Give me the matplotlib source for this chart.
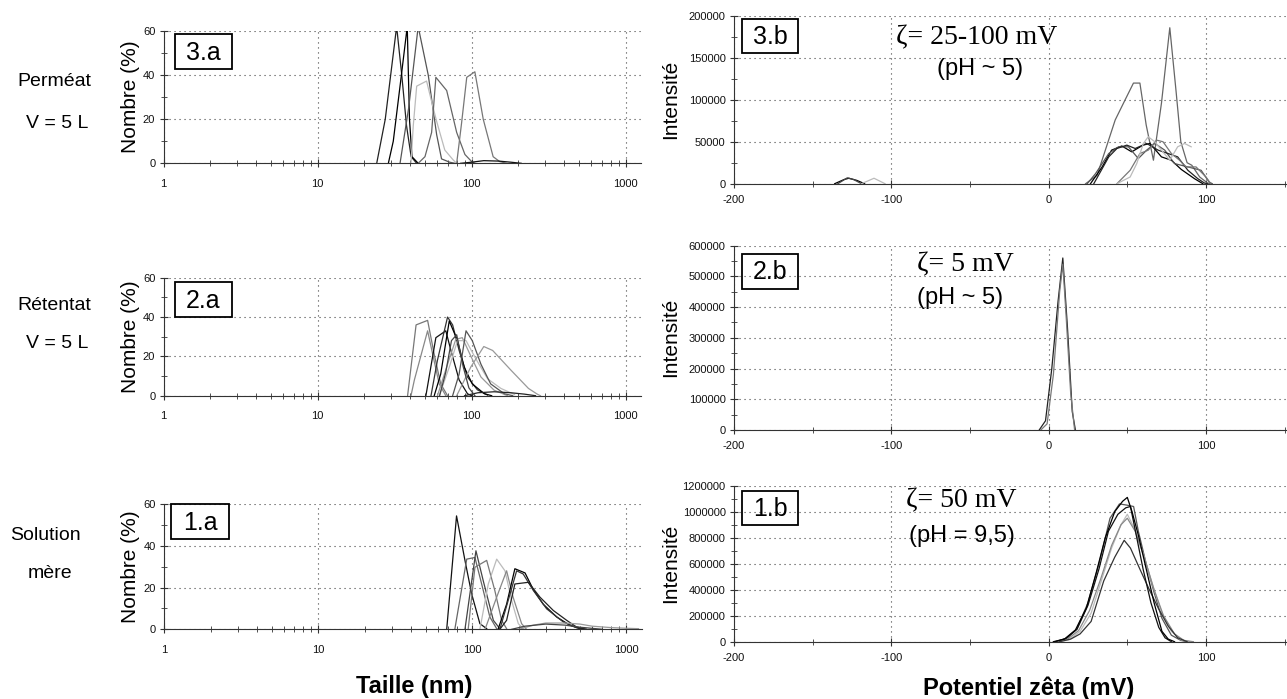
import matplotlib
matplotlib.use("Agg")
import matplotlib.pyplot as plt
from matplotlib.patches import Rectangle
from matplotlib.ticker import MultipleLocator, LogLocator, NullFormatter, FuncFormatter

W, H = 1287, 699
plt.rcParams['font.family'] = ['Liberation Sans', 'DejaVu Sans']
plt.rcParams['axes.unicode_minus'] = False

# ---- size distributions (Nombre %) ----
perm_size = [
    ([24.2, 27.5, 32.6, 35.2, 37.8, 40.5, 44], [0, 20, 62, 40, 17, 3, 0]),
    ([28.8, 31, 35, 38.2, 39.5, 41, 45], [0, 10, 40, 62, 20, 3, 0]),
    ([34.3, 39, 45, 52.3, 59.3, 63.8, 72, 78], [0, 25, 62, 40, 13, 2, 0.5, 0]),
    ([40.4, 41.8, 44, 51, 55, 59.3, 67, 76, 80], [0, 17, 35, 37.3, 28, 19, 6, 1.5, 0]),
    ([45, 49.8, 55, 58.6, 68.9, 80, 90.5, 100, 105], [0, 3, 14, 39, 33, 14, 4, 0.8, 0]),
    ([80, 86, 93, 105, 119, 138, 152, 168], [0, 18, 39, 41.5, 20, 3, 0.8, 0]),
    ([85, 100, 120, 150, 180, 210], [0, 0.5, 1.2, 1.0, 0.5, 0]),
]
perm_size_colors = ['#222222', '#000000', '#555555', '#bbbbbb', '#666666', '#777777', '#111111']

ret_size = [
    ([38.4, 43.6, 51.8, 57.2, 63, 69.8], [0, 36, 38.3, 21, 6, 0]),
    ([40.4, 42.5, 51.8, 55.9, 61.6, 68], [0, 8, 33, 21, 6, 0]),
    ([50.5, 58.6, 68, 73.4, 83, 94, 100], [0, 29.5, 33, 23, 8, 1, 0]),
    ([54.5, 60, 69.8, 75.3, 83, 94, 109, 127], [0, 18, 40, 36, 23, 9.5, 3, 0.3]),
    ([57.2, 63, 71.6, 81, 89.6, 101, 121, 135], [0, 11, 38, 28, 14.5, 6, 1, 0]),
    ([60, 69.8, 79, 87, 99, 115, 140, 171], [0, 16, 28.7, 29.5, 20, 9.5, 2.8, 0]),
    ([61.6, 71.6, 81, 92, 107, 127, 155, 190], [0, 14.5, 28, 28, 18.5, 8.6, 3.7, 0.6]),
    ([75.3, 83, 92, 101, 115, 133, 163, 185], [0, 11, 33, 28, 16, 6, 1, 0]),
    ([80, 99, 120, 137, 180, 234, 268, 280], [0, 14.7, 25, 23, 13, 3.7, 0.7, 0]),
    ([90, 110, 140, 180, 220, 260], [0, 1.5, 2, 1.5, 0.8, 0]),
    ([62, 68, 74, 80, 88, 96, 105], [0, 12, 28, 31, 15, 4, 0]),
]
ret_size_colors = ['#777777', '#888888', '#111111', '#333333', '#000000', '#999999',
                   '#bbbbbb', '#555555', '#999999', '#222222', '#444444']

mere_size = [
    ([68.2, 79, 89.6, 99, 112, 124], [0, 54.3, 33, 17, 2.7, 0.3]),
    ([77, 92, 104, 115, 130, 144], [0, 33.6, 34.4, 21.7, 5.9, 0.3]),
    ([89.6, 105.6, 118, 137, 151], [0, 37.6, 23, 4.3, 0.3]),
    ([94, 104, 124, 140, 155, 167], [0, 29.7, 33, 18.6, 4.3, 0.3]),
    ([112, 127, 144, 163, 180, 199, 214], [0, 21.7, 33.6, 28, 13.8, 2.7, 0.3]),
    ([121, 144, 167, 184, 209, 225], [0, 15.4, 28, 15.4, 2.7, 0]),
    ([147, 167, 189, 220, 249, 289, 353, 431, 500], [0, 12, 29, 27, 19, 12, 5.9, 1.9, 0.3]),
    ([151, 176, 194, 214, 249, 304, 390, 475, 550], [0, 17, 28, 26.5, 18.6, 9.8, 3.5, 0.8, 0]),
    ([151, 167, 189, 231, 275, 336, 410, 475, 550], [0, 4.3, 21.7, 22.5, 15.4, 9, 4.3, 1.1, 0]),
    ([200, 250, 300, 400, 500, 600, 800, 1000, 1200], [0, 2, 3, 3, 2.5, 1.5, 0.8, 0.5, 0.3]),
    ([180, 220, 300, 400, 500, 700], [0, 1.5, 2.5, 2, 1, 0]),
]
mere_size_colors = ['#111111', '#666666', '#444444', '#777777', '#bbbbbb', '#888888',
                    '#000000', '#333333', '#222222', '#999999', '#444444']

# ---- zeta potential distributions (Intensité) ----
perm_zeta = [
    ([-136, -130, -127, -122, -117], [0, 5000, 6500, 4000, 0]),
    ([-134, -128, -124, -119], [0, 7000, 5000, 0]),
    ([-119, -111, -104], [0, 6500, 0]),
    ([23.5, 30.8, 42.3, 48.6, 53.9, 58, 62, 66.6, 71.7, 77, 81, 84, 88, 91, 96, 101, 103],
     [0, 10000, 76000, 100000, 120000, 120000, 70000, 28000, 96000, 186000, 110000, 50000,
      25000, 22000, 8000, 800, 0]),
    ([26.6, 34, 40, 46.5, 52.8, 60, 64.4, 71.7, 78, 84.3, 92.7, 98],
     [0, 20000, 40000, 45000, 38000, 46000, 48000, 32000, 28000, 17000, 6000, 0]),
    ([24.5, 29.8, 38.2, 44.4, 50.7, 57, 62.3, 67.5, 73.8, 80, 88.5, 96.9, 102, 104],
     [0, 12000, 36000, 44000, 44000, 30000, 40000, 48000, 40000, 24000, 20000, 16000, 2000, 0]),
    ([28.7, 38.2, 43.4, 49.7, 55, 62.3, 69.6, 75.9, 82, 88.5, 94.8, 99, 101],
     [0, 32000, 42000, 46000, 42000, 48000, 40000, 36000, 32000, 16000, 6000, 800, 0]),
    ([43.4, 51.8, 58, 63.3, 68.6, 72.7, 78, 83.2, 87.4, 93.7, 100, 103],
     [0, 16000, 36000, 40000, 52000, 50000, 36000, 28000, 20000, 20000, 8000, 0]),
    ([43.4, 51.8, 56, 60.2, 63.3, 67.5, 71.7, 77, 82, 86.4, 90.6],
     [0, 8000, 24000, 48000, 56000, 50000, 40000, 28000, 44000, 48000, 44000]),
]
perm_zeta_colors = ['#000000', '#444444', '#bbbbbb', '#666666', '#000000', '#555555',
                    '#222222', '#777777', '#bbbbbb']

ret_zeta = [
    ([-6, -2, 2, 6, 9, 12, 15, 17], [0, 30000, 200000, 420000, 560000, 330000, 60000, 0]),
    ([-5, -1, 3, 7, 9, 11, 14, 16.5], [0, 20000, 180000, 450000, 540000, 380000, 120000, 0]),
]
ret_zeta_colors = ['#222222', '#777777']

mere_zeta = [
    ([5, 12, 18, 25, 32, 39, 45, 50, 54, 57, 62, 67, 72, 78, 84, 88],
     [0, 30000, 100000, 300000, 600000, 950000, 1060000, 1050000, 1040000, 850000,
      600000, 380000, 180000, 50000, 10000, 0]),
    ([6, 13, 20, 27, 33, 40, 46, 50, 55, 60, 66, 72, 78, 84, 90],
     [0, 15000, 80000, 220000, 450000, 720000, 900000, 980000, 860000, 680000, 440000,
      220000, 80000, 15000, 0]),
    ([5, 12, 19, 26, 33, 40, 46, 50, 55, 61, 67, 73, 80, 86, 92],
     [0, 20000, 85000, 240000, 480000, 740000, 900000, 950000, 850000, 640000, 400000,
      200000, 60000, 10000, 0]),
    ([7, 14, 20, 27, 35, 42, 48, 52, 58, 64, 70, 76, 82, 88],
     [0, 20000, 60000, 156000, 467000, 650000, 780000, 720000, 558000, 400000, 250000,
      120000, 30000, 0]),
    ([4, 11, 18, 25, 32, 38, 44, 49, 52, 56, 60, 65, 70, 74, 78],
     [0, 25000, 95000, 280000, 560000, 850000, 980000, 1030000, 1040000, 800000, 560000,
      300000, 110000, 30000, 0]),
    ([3, 10, 17, 24, 30, 36, 42, 47, 50, 53, 57, 62, 67, 72, 76, 80],
     [0, 20000, 90000, 260000, 520000, 800000, 1000000, 1080000, 1110000, 1000000,
      820000, 560000, 300000, 80000, 20000, 0]),
]
mere_zeta_colors = ['#555555', '#bbbbbb', '#888888', '#333333', '#111111', '#000000']

panel_tags = ['3.a', '2.a', '1.a', '3.b', '2.b', '1.b']
row_labels = [('Perméat', 'V = 5 L'), ('Rétentat', 'V = 5 L'), ('Solution', 'mère')]
zeta_texts = ['ζ= 25-100 mV', 'ζ= 5 mV', 'ζ= 50 mV']
ph_texts = ['(pH ~ 5)', '(pH ~ 5)', '(pH = 9,5)']


def fbox(l, t, r, b):
    return [l / W, 1 - b / H, (r - l) / W, (b - t) / H]


def ftext(x, y, s, **kw):
    fig.text(x / W, 1 - y / H, s, ha='center', va='center', **kw)


def tag(l, t, r, b, s):
    fig.patches.append(Rectangle((l / W, 1 - b / H), (r - l) / W, (b - t) / H,
                                 transform=fig.transFigure, fill=False,
                                 edgecolor='black', lw=1.3, zorder=5))
    ftext((l + r) / 2, (t + b) / 2 + 1, s, fontsize=18, zorder=6)


GRID = dict(color='#444444', linestyle=(0, (1, 3.5)), linewidth=0.8)


def style(ax, ticksize):
    for s in ['top', 'right']:
        ax.spines[s].set_visible(False)
    ax.spines['left'].set_color('#333333')
    ax.spines['bottom'].set_color('#333333')
    ax.tick_params(which='both', direction='inout', colors='#333333',
                   labelcolor='#111111', labelsize=ticksize)
    ax.tick_params(which='major', length=6)
    ax.tick_params(which='minor', length=4)
    ax.grid(True, which='major', **GRID)
    ax.set_axisbelow(True)


fig = plt.figure(figsize=(W / 100, H / 100), dpi=100)

# left column: size distributions
left_boxes = [(163.6, 31, 641, 163.3), (163.6, 277.7, 641, 395.7), (164.3, 504, 642, 629.3)]
left_data = [(perm_size, perm_size_colors), (ret_size, ret_size_colors),
             (mere_size, mere_size_colors)]
tag_left = [(175, 34, 232, 69), (175, 282, 232, 317), (171, 504, 229, 539)]
for i, ((l, t, r, b), (curves, cols)) in enumerate(zip(left_boxes, left_data)):
    ax = fig.add_axes(fbox(l, t, r, b))
    for (x, y), c in zip(curves, cols):
        ax.plot(x, y, color=c, lw=0.9)
    ax.set_xscale('log')
    ax.set_xlim(1, 10 ** ((r - l) / 154.0))
    ax.set_ylim(0, 60)
    ax.set_xticks([1, 10, 100, 1000])
    ax.set_xticklabels(['1', '10', '100', '1000'])
    ax.xaxis.set_minor_locator(LogLocator(base=10, subs=range(2, 10), numticks=20))
    ax.xaxis.set_minor_formatter(NullFormatter())
    ax.set_yticks([0, 20, 40, 60])
    ax.yaxis.set_minor_locator(MultipleLocator(10))
    style(ax, 8)
    ax.tick_params(axis='x', which='major', pad=8)
    ax.tick_params(axis='y', which='major', pad=3)
    ftext(130, (t + b) / 2, 'Nombre (%)', fontsize=15, rotation=90)
    tag(*tag_left[i], panel_tags[i])

# right column: zeta potential
right_boxes = [(734, 16, 1287, 183.7), (734, 245.7, 1287, 430), (734, 485.7, 1287, 641.7)]
right_data = [(perm_zeta, perm_zeta_colors), (ret_zeta, ret_zeta_colors),
              (mere_zeta, mere_zeta_colors)]
right_ylim = [200000, 600000, 1200000]
right_major = [50000, 100000, 200000]
tag_right = [(742, 19, 798, 53), (742, 254, 798, 289), (742, 491, 798, 525)]
zeta_pos = [(977, 38), (965, 265), (961, 501)]
ph_pos = [(980, 69), (960, 298), (962, 536)]
for i, ((l, t, r, b), (curves, cols)) in enumerate(zip(right_boxes, right_data)):
    ax = fig.add_axes(fbox(l, t, r, b))
    for (x, y), c in zip(curves, cols):
        ax.plot(x, y, color=c, lw=0.9)
    ax.set_xlim(-200, 151.5)
    ax.set_ylim(0, right_ylim[i])
    ax.xaxis.set_major_locator(MultipleLocator(100))
    ax.xaxis.set_minor_locator(MultipleLocator(50))
    ax.yaxis.set_major_locator(MultipleLocator(right_major[i]))
    ax.yaxis.set_minor_locator(MultipleLocator(right_major[i] / 2))
    ax.yaxis.set_major_formatter(FuncFormatter(lambda v, p: f'{int(round(v))}'))
    ax.xaxis.set_major_formatter(FuncFormatter(lambda v, p: f'{int(round(v))}'))
    style(ax, 8)
    ax.tick_params(axis='x', which='major', pad=5)
    ax.tick_params(axis='y', which='major', pad=3)
    ftext(671, (t + b) / 2, 'Intensité', fontsize=15, rotation=90)
    tag(*tag_right[i], panel_tags[i + 3])
    ftext(*zeta_pos[i], zeta_texts[i], fontsize=20, family=['Liberation Serif', 'DejaVu Serif'])
    ftext(*ph_pos[i], ph_texts[i], fontsize=17)

# row labels and axis titles
row_pos = [((54, 82), (57, 124)), ((54, 306), (57, 343)), ((45, 535), (50, 574))]
for (a, b), ((xa, ya), (xb, yb)) in zip(row_labels, row_pos):
    ftext(xa, ya, a, fontsize=14)
    ftext(xb, yb, b, fontsize=14)

ftext(414, 686, 'Taille (nm)', fontsize=17, fontweight='bold')
ftext(1029, 688, 'Potentiel zêta (mV)', fontsize=17, fontweight='bold')

fig.savefig('out.png', dpi=100)
